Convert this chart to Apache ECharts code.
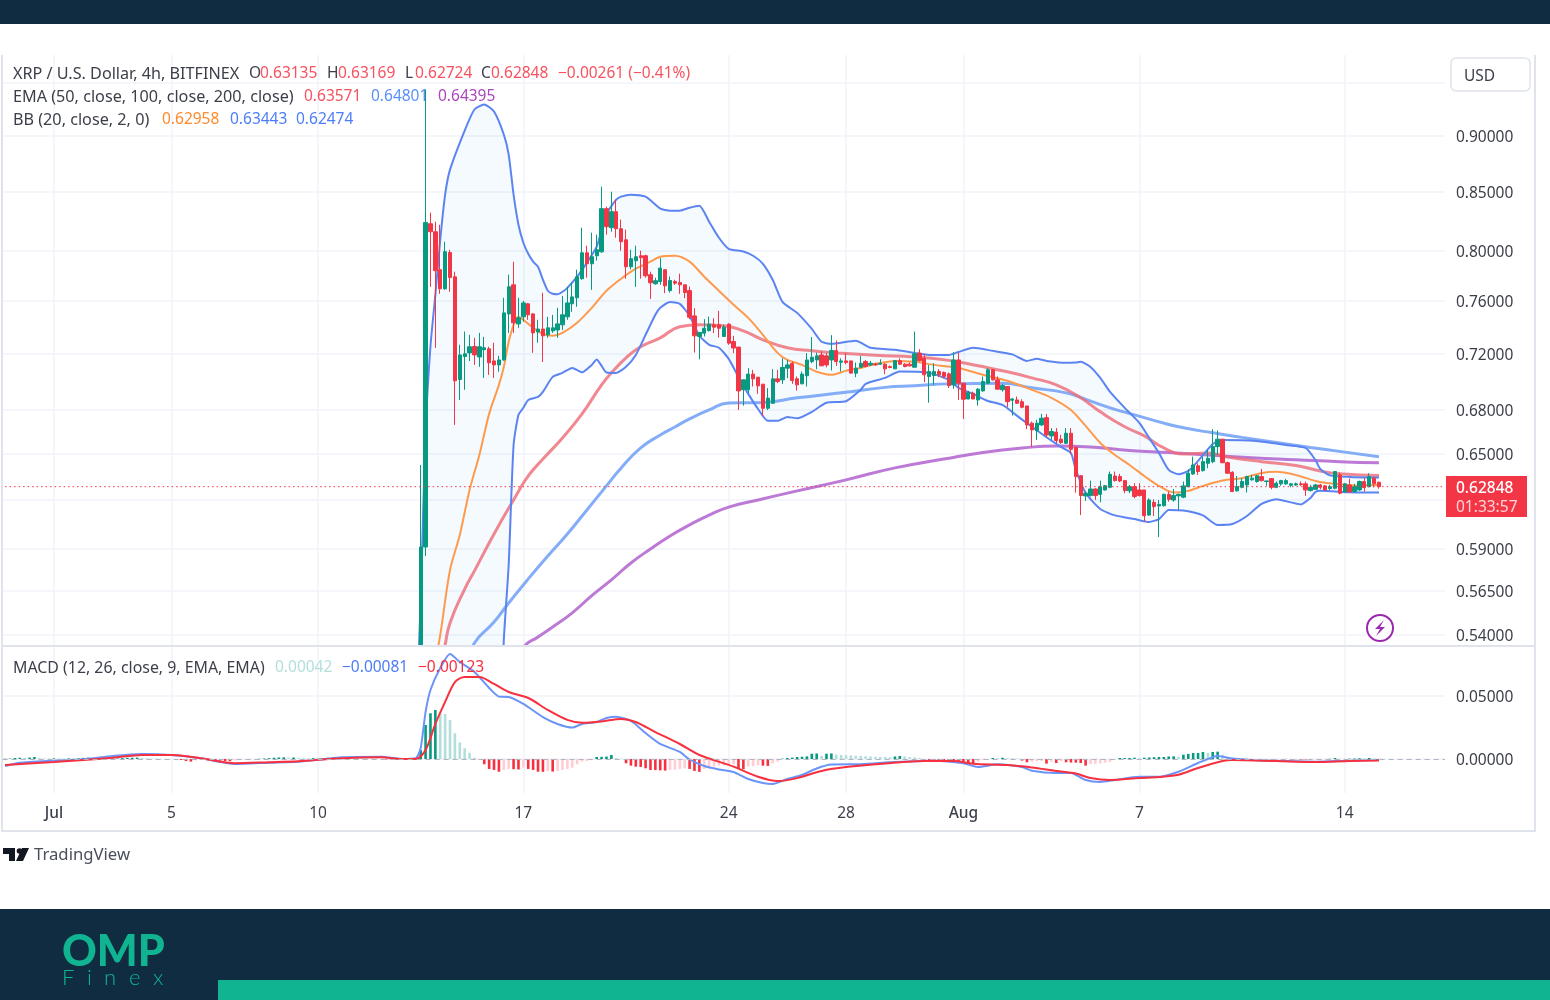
<!DOCTYPE html>
<html>
<head>
<meta charset="utf-8">
<title>XRP / U.S. Dollar</title>
<script src="https://cdn.jsdelivr.net/npm/echarts@6/dist/echarts.min.js"></script>
<style>
html,body{margin:0;padding:0;background:#fff;}
#chart{width:1550px;height:1000px;}
</style>
</head>
<body>
<div id="chart"></div>
<script type="text/javascript">
// one slot = one 4h candle, slot 0 is Jul 1 00:00
var firstSlot = -10, slotCount = 295, firstCandle = 75;
var tickSlots = [0, 24, 54, 96, 138, 162, 186, 222, 264];
var tickLabels = ['Jul', '5', '10', '17', '24', '28', 'Aug', '7', '14'];
var priceTicks = [0.54, 0.565, 0.59, 0.65, 0.68, 0.72, 0.76, 0.80, 0.85, 0.90];
var priceGrid = [0.54, 0.565, 0.59, 0.62, 0.65, 0.68, 0.72, 0.76, 0.80, 0.85, 0.90, 0.95];
var macdTicks = [0, 0.05];
var lastPrice = 0.62848;

// candles, slot 75 to slot 271 (slot 75 opens below the visible pane)
var opens = [
.5345,.5909,.8225,.8158,.7847,.7695,.7986,.7790,.7013,.7180,
.7207,.7254,.7177,.7230,.7237,.7148,.7119,.7155,.7500,.7727,
.7424,.7478,.7578,.7500,.7363,.7385,.7341,.7371,.7378,.7417,
.7478,.7578,.7625,.7775,.7984,.7895,.7960,.7992,.8353,.8192,
.8327,.8183,.8091,.7871,.7920,.7960,.7960,.7807,.7735,.7753,
.7847,.7681,.7753,.7745,.7727,.7681,.7485,.7329,.7354,.7373,
.7417,.7417,.7329,.7422,.7291,.7250,.6940,.6940,.7052,.7030,
.6980,.6810,.6845,.7018,.7011,.7095,.7131,.7018,.6982,.7040,
.7143,.7155,.7192,.7185,.7155,.7224,.7138,.7148,.7148,.7059,
.7102,.7143,.7119,.7126,.7124,.7124,.7107,.7090,.7150,.7124,
.7124,.7102,.7205,.7167,.7035,.7042,.7071,.7064,.7054,.6975,
.7155,.6987,.6875,.6916,.6868,.6932,.6987,.7083,.7011,.6940,
.6963,.6866,.6868,.6856,.6826,.6707,.6655,.6695,.6745,.6620,
.6646,.6598,.6570,.6638,.6543,.6356,.6226,.6228,.6270,.6236,
.6264,.6281,.6354,.6350,.6324,.6258,.6285,.6264,.6264,.6105,
.6185,.6162,.6164,.6236,.6200,.6226,.6218,.6285,.6367,.6421,
.6389,.6437,.6448,.6548,.6598,.6441,.6378,.6258,.6281,.6296,
.6329,.6318,.6350,.6318,.6337,.6281,.6303,.6303,.6294,.6296,
.6303,.6303,.6260,.6268,.6296,.6290,.6273,.6275,.6361,.6251,
.6296,.6254,.6264,.6318,.6285,.6340,.63135];
var closes = [
.5909,.8236,.8158,.7839,.7695,.7993,.7785,.7004,.7192,.7200,
.7252,.7192,.7252,.7245,.7134,.7119,.7155,.7508,.7711,.7432,
.7470,.7585,.7493,.7356,.7385,.7334,.7394,.7394,.7424,.7493,
.7585,.7632,.7791,.7984,.7895,.7952,.8009,.8353,.8200,.8327,
.8183,.8075,.7871,.7936,.7952,.7944,.7799,.7743,.7759,.7860,
.7719,.7761,.7740,.7727,.7666,.7475,.7334,.7359,.7391,.7422,
.7399,.7391,.7399,.7279,.7243,.6932,.7011,.7052,.7018,.6968,
.6810,.6881,.7018,.6999,.7100,.7119,.7006,.6975,.7052,.7155,
.7175,.7185,.7112,.7119,.7224,.7143,.7148,.7136,.7059,.7095,
.7131,.7107,.7131,.7119,.7131,.7090,.7100,.7150,.7124,.7107,
.7112,.7200,.7150,.7047,.7071,.7071,.7047,.7035,.6970,.7155,
.6987,.6873,.6920,.6875,.6944,.6999,.7083,.7011,.6944,.6970,
.6856,.6875,.6845,.6817,.6695,.6661,.6707,.6741,.6627,.6650,
.6589,.6575,.6638,.6530,.6350,.6228,.6243,.6270,.6228,.6285,
.6291,.6365,.6324,.6322,.6260,.6285,.6222,.6228,.6101,.6200,
.6158,.6172,.6236,.6204,.6228,.6236,.6290,.6372,.6426,.6383,
.6448,.6470,.6548,.6598,.6441,.6372,.6254,.6285,.6318,.6350,
.6340,.6356,.6324,.6322,.6281,.6307,.6324,.6324,.6303,.6303,
.6298,.6264,.6281,.6296,.6281,.6264,.6285,.6383,.6243,.6303,
.6251,.6285,.6318,.6279,.6350,.6303,.62848];
var highs = [
.6426,.9437,.8319,.8242,.8217,.8075,.8009,.7831,.7267,.7366,
.7341,.7319,.7356,.7326,.7252,.7282,.7185,.7625,.7807,.7911,
.7625,.7601,.7585,.7508,.7455,.7664,.7478,.7493,.7547,.7640,
.7711,.7743,.7847,.8192,.8042,.8150,.8133,.8543,.8370,.8499,
.8430,.8260,.8175,.8009,.8042,.8001,.7968,.7831,.7783,.7941,
.7850,.7793,.7767,.7815,.7727,.7713,.7544,.7359,.7460,.7480,
.7467,.7524,.7417,.7429,.7334,.7250,.7011,.7095,.7083,.7030,
.6980,.6952,.7088,.7083,.7167,.7155,.7143,.7035,.7071,.7205,
.7324,.7209,.7219,.7205,.7339,.7299,.7167,.7205,.7148,.7136,
.7185,.7155,.7148,.7136,.7160,.7131,.7114,.7155,.7167,.7131,
.7136,.7366,.7234,.7200,.7119,.7131,.7088,.7071,.7064,.7212,
.7209,.6987,.6932,.6927,.6952,.7035,.7095,.7090,.7035,.6982,
.6963,.6881,.6892,.6873,.6826,.6718,.6730,.6771,.6769,.6673,
.6673,.6627,.6673,.6673,.6547,.6356,.6254,.6324,.6275,.6324,
.6296,.6383,.6383,.6368,.6329,.6296,.6307,.6307,.6264,.6211,
.6204,.6200,.6240,.6254,.6270,.6241,.6318,.6398,.6481,.6437,
.6481,.6526,.6666,.6657,.6598,.6448,.6385,.6354,.6340,.6356,
.6361,.6361,.6400,.6324,.6340,.6318,.6329,.6335,.6309,.6311,
.6318,.6318,.6296,.6303,.6303,.6296,.6296,.6387,.6376,.6307,
.6337,.6303,.6324,.6340,.6372,.6350,.63169];
var lows = [
.5345,.5855,.7711,.7244,.7656,.7687,.7672,.6695,.6868,.6940,
.7147,.7119,.7105,.7025,.7047,.7025,.7069,.7150,.7356,.7356,
.7394,.7440,.7455,.7207,.7282,.7140,.7319,.7356,.7319,.7378,
.7455,.7516,.7555,.7767,.7783,.7687,.7920,.7984,.8133,.8158,
.8108,.8001,.7775,.7850,.7711,.7775,.7783,.7616,.7727,.7727,
.7661,.7666,.7727,.7656,.7622,.7460,.7209,.7160,.7329,.7366,
.7354,.7321,.7329,.7267,.7205,.6798,.6828,.6916,.6963,.6911,
.6757,.6798,.6845,.6987,.6982,.7023,.6982,.6935,.6982,.6963,
.7131,.7088,.7112,.7102,.7078,.7112,.7071,.7124,.7059,.7030,
.7095,.7102,.7112,.7112,.7119,.7052,.7095,.7090,.7119,.7102,
.7107,.7102,.7143,.6994,.6849,.6975,.7030,.7023,.6952,.6947,
.6868,.6735,.6873,.6873,.6828,.6927,.6980,.7006,.6940,.6927,
.6817,.6759,.6840,.6810,.6666,.6547,.6593,.6688,.6611,.6593,
.6570,.6566,.6566,.6497,.6247,.6105,.6193,.6222,.6200,.6185,
.6260,.6275,.6318,.6314,.6243,.6243,.6211,.6222,.6064,.6101,
.6099,.5969,.6158,.6189,.6189,.6137,.6211,.6281,.6361,.6361,
.6383,.6405,.6437,.6492,.6437,.6368,.6250,.6254,.6275,.6247,
.6324,.6311,.6318,.6291,.6268,.6275,.6291,.6296,.6281,.6290,
.6290,.6226,.6254,.6264,.6268,.6258,.6264,.6268,.6236,.6247,
.6247,.6247,.6258,.6254,.6281,.6281,.62724];

// indicator lines, [slot, value]
var bbUpper = [[74,.4900],[75,.5594],[76,.6661],[77,.7257],[78,.7648],[79,.8091],[80,.8473],[81,.8693],[84,.9048],[86,.9245],[88,.9292],[90,.9226],[92,.9011],[93,.8828],[94,.8473],[95,.8217],[96,.8067],[97,.7976],[98,.7912],[99,.7871],[100,.7767],[101,.7680],[102,.7656],[103,.7652],[104,.7672],[105,.7703],[107,.7791],[109,.7904],[111,.8034],[113,.8302],[115,.8430],[116,.8456],[118,.8473],[121,.8456],[124,.8353],[126,.8336],[128,.8336],[130,.8361],[132,.8378],[134,.8242],[136,.8108],[138,.8017],[141,.7995],[143,.7960],[145,.7895],[147,.7767],[149,.7593],[152,.7508],[155,.7386],[157,.7289],[159,.7274],[164,.7297],[167,.7245],[172,.7230],[176,.7207],[179,.7192],[183,.7192],[185,.7214],[188,.7245],[192,.7222],[196,.7196],[199,.7148],[201,.7163],[203,.7148],[207,.7134],[209,.7137],[210,.7141],[212,.7104],[214,.7025],[216,.6925],[219,.6813],[222,.6709],[224,.6607],[226,.6505],[228,.6394],[230,.6365],[232,.6387],[234,.6453],[237,.6566],[239,.6593],[246,.6586],[252,.6559],[256,.6539],[258,.6459],[259,.6400],[261,.6358],[265,.6348],[271,.6344]];
var bbLower = [[74,.4400],[76,.3700],[90,.4200],[91,.4700],[92,.5372],[93,.5801],[94,.6559],[95,.6764],[96,.6813],[97,.6868],[99,.6889],[100,.6925],[102,.7032],[104,.7061],[106,.7097],[108,.7065],[110,.7119],[111,.7159],[112,.7112],[113,.7064],[115,.7061],[117,.7105],[119,.7192],[121,.7341],[123,.7493],[124,.7547],[126,.7593],[128,.7578],[130,.7485],[132,.7334],[134,.7267],[136,.7245],[138,.7163],[140,.7032],[142,.6911],[144,.6805],[146,.6723],[148,.6723],[150,.6750],[152,.6740],[155,.6785],[158,.6848],[162,.6859],[165,.6940],[166,.6982],[170,.7025],[173,.7071],[179,.7061],[183,.7011],[185,.6954],[188,.6911],[191,.6861],[194,.6833],[197,.6757],[200,.6682],[203,.6611],[206,.6545],[208,.6505],[209,.6394],[211,.6245],[214,.6143],[217,.6103],[221,.6080],[224,.6062],[226,.6080],[228,.6137],[231,.6133],[235,.6103],[238,.6043],[241,.6049],[244,.6099],[247,.6175],[250,.6204],[255,.6172],[257,.6213],[258,.6251],[259,.6258],[265,.6249],[271,.6247]];
var bbBasis = [[74,.4700],[76,.5045],[77,.5200],[78,.5265],[79,.5400],[81,.5771],[83,.5982],[85,.6264],[87,.6492],[89,.6771],[91,.6975],[92,.7104],[93,.7289],[94,.7417],[95,.7478],[96,.7455],[98,.7394],[100,.7349],[102,.7334],[104,.7356],[107,.7432],[110,.7547],[113,.7680],[116,.7775],[119,.7855],[122,.7912],[124,.7952],[127,.7960],[130,.7912],[133,.7791],[136,.7680],[139,.7570],[142,.7470],[145,.7341],[148,.7207],[150,.7155],[153,.7119],[156,.7069],[159,.7047],[162,.7076],[165,.7097],[168,.7126],[172,.7148],[176,.7141],[180,.7119],[185,.7097],[190,.7047],[195,.7004],[200,.6940],[204,.6883],[208,.6798],[211,.6688],[214,.6572],[217,.6492],[220,.6426],[223,.6354],[226,.6290],[229,.6248],[232,.6258],[235,.6290],[239,.6325],[243,.6340],[247,.6374],[250,.6382],[254,.6361],[258,.6322],[262,.6303],[266,.6293],[271,.6296]];
var ema50 = [[74,.4800],[79,.5210],[80,.5345],[81,.5467],[84,.5660],[86,.5766],[90,.5988],[94,.6200],[97,.6354],[100,.6465],[104,.6606],[108,.6771],[112,.6975],[114,.7061],[117,.7170],[120,.7252],[124,.7319],[128,.7402],[132,.7417],[137,.7409],[141,.7371],[145,.7304],[150,.7245],[155,.7222],[160,.7207],[168,.7189],[176,.7177],[183,.7152],[189,.7112],[195,.7069],[200,.7025],[205,.6975],[210,.6883],[214,.6785],[219,.6682],[223,.6620],[227,.6539],[231,.6499],[236,.6505],[240,.6479],[247,.6448],[254,.6423],[259,.6387],[263,.6368],[271,.6357]];
var ema100 = [[80,.4800],[85,.5267],[86,.5356],[90,.5472],[93,.5580],[97,.5719],[101,.5855],[105,.5988],[109,.6137],[113,.6290],[116,.6406],[120,.6539],[124,.6626],[127,.6681],[130,.6736],[134,.6799],[138,.6847],[145,.6851],[152,.6883],[162,.6922],[170,.6957],[176,.6968],[183,.6982],[194,.6986],[200,.6954],[207,.6918],[211,.6872],[216,.6813],[221,.6764],[226,.6716],[231,.6675],[237,.6641],[243,.6610],[250,.6576],[257,.6542],[264,.6511],[271,.6480]];
var ema200 = [[90,.5000],[96,.5329],[99,.5389],[102,.5444],[106,.5524],[110,.5622],[114,.5713],[118,.5813],[122,.5897],[126,.5976],[130,.6044],[134,.6105],[138,.6155],[144,.6200],[152,.6258],[162,.6329],[172,.6407],[182,.6465],[190,.6509],[198,.6539],[205,.6552],[212,.6546],[220,.6522],[228,.6508],[236,.6492],[245,.6474],[254,.6461],[263,.6448],[271,.6440]];
var macdLine = [[-10,-.0056],[-7,-.0029],[0,-.0013],[6,-.0002],[12,.0024],[18,.0040],[24,.0032],[30,.0006],[37,-.0040],[44,-.0029],[50,-.0021],[59,.0013],[67,.0018],[71,0],[74,.0006],[75,.0087],[76,.0373],[77,.0548],[79,.0723],[81,.0834],[83,.0770],[86,.0691],[89,.0564],[91,.0495],[93,.0492],[96,.0437],[100,.0333],[103,.0278],[106,.0249],[108,.0278],[111,.0294],[113,.0326],[115,.0336],[118,.0302],[121,.0206],[124,.0119],[128,.0056],[130,-.0004],[133,-.0056],[136,-.0083],[139,-.0103],[142,-.0159],[145,-.0191],[147,-.0199],[150,-.0159],[153,-.0127],[156,-.0075],[159,-.0044],[165,-.0041],[172,-.0024],[180,-.0013],[186,-.0033],[189,-.0064],[193,-.0042],[198,-.0064],[200,-.0093],[205,-.0111],[208,-.0111],[211,-.0167],[214,-.0183],[217,-.0167],[222,-.0141],[226,-.0141],[230,-.0101],[234,-.0032],[238,.0024],[241,.0004],[245,-.0008],[252,-.0016],[258,-.0021],[265,-.0013],[271,-.00081]];
var macdSignal = [[-10,-.0048],[0,-.0024],[6,-.0008],[12,.0010],[18,.0032],[24,.0032],[30,.0006],[37,-.0034],[44,-.0026],[50,-.0018],[59,.0006],[67,.0013],[71,0],[74,0],[76,.0071],[78,.0278],[80,.0453],[82,.0611],[84,.0651],[87,.0651],[90,.0596],[93,.0532],[97,.0484],[101,.0389],[105,.0310],[108,.0288],[112,.0298],[116,.0318],[119,.0294],[123,.0214],[128,.0119],[132,.0032],[139,-.0061],[144,-.0141],[148,-.0175],[152,-.0152],[157,-.0095],[162,-.0064],[170,-.0036],[178,-.0016],[184,-.0016],[188,-.0037],[195,-.0048],[200,-.0067],[205,-.0095],[209,-.0115],[212,-.0151],[216,-.0167],[222,-.0151],[226,-.0143],[230,-.0125],[234,-.0071],[239,-.0016],[241,-.0008],[250,-.0016],[258,-.0024],[265,-.0016],[271,-.00123]];
// histogram, slot -10 to slot 271
var macdHist = [
.0002,.0003,.0008,.0010,.0009,.0011,.0016,.0006,.0004,.0003,
.0005,.0004,.0003,.0005,.0004,.0006,.0009,.0011,.0008,.0005,
.0004,.0003,.0003,.0004,.0007,.0009,.0010,.0011,.0008,.0005,
.0003,.0002,.0001,-.0002,-.0001,-.0004,-.0008,-.0016,-.0021,-.0012,
-.0008,-.0006,-.0005,-.0009,-.0013,-.0016,-.0018,-.0012,-.0007,-.0004,
-.0002,-.0001,.0002,.0004,.0007,.0010,.0012,.0013,.0010,.0012,
.0008,.0006,.0005,.0007,.0006,.0008,.0010,.0012,.0014,.0016,
.0011,.0009,.0008,.0006,.0004,.0003,.0002,-.0001,-.0004,-.0006,
-.0005,-.0003,-.0002,-.0001,.0002,
.0071,.0270,.0363,.0389,.0363,.0357,.0310,.0204,.0132,.0085,
.0050,.0010,-.0003,-.0042,-.0079,-.0087,-.0101,-.0087,-.0079,-.0081,
-.0083,-.0069,-.0079,-.0087,-.0101,-.0102,-.0095,-.0100,-.0095,-.0087,
-.0079,-.0069,-.0042,-.0021,-.0016,-.0010,.0016,.0017,.0019,.0032,
.0008,.0002,-.0034,-.0053,-.0061,-.0063,-.0074,-.0087,-.0088,-.0090,
-.0092,-.0087,-.0085,-.0079,-.0074,-.0079,-.0095,-.0102,-.0079,-.0074,
-.0060,-.0053,-.0050,-.0045,-.0042,-.0079,-.0081,-.0060,-.0058,-.0050,
-.0053,-.0055,-.0034,-.0021,.0003,.0008,.0011,.0016,.0018,.0021,
.0042,.0044,.0026,.0042,.0044,.0034,.0032,.0030,.0028,.0026,
.0024,.0022,.0020,.0018,.0016,.0015,.0014,.0020,.0024,.0021,
.0016,.0013,.0008,-.0005,-.0008,-.0013,-.0016,-.0018,-.0021,-.0024,
-.0026,-.0026,-.0030,-.0037,-.0021,-.0008,-.0003,.0008,.0005,.0010,
.0008,.0006,.0003,-.0013,-.0026,-.0021,-.0018,-.0016,-.0037,-.0021,
-.0032,-.0018,-.0026,-.0028,-.0029,-.0032,-.0053,-.0040,-.0038,-.0035,
-.0030,-.0024,-.0005,.0008,.0008,.0008,.0010,.0006,.0010,.0012,
.0014,.0016,.0016,.0020,.0021,.0018,.0034,.0040,.0048,.0048,
.0056,.0048,.0056,.0058,.0034,.0012,.0005,.0003,.0002,-.0002,
-.0003,-.0002,-.0001,-.0002,-.0003,-.0002,-.0001,.0001,-.0001,-.0002,
-.0003,-.0004,-.0003,-.0002,-.0003,-.0002,.0002,.0008,.0003,.0002,
.0003,.0004,.0006,.0004,.0008,.0006,.00042];

var UP = '#089981', DOWN = '#f23645', GRID = '#f0f3fa', BORDER = '#e0e3eb', INK = '#3c3f4a';
var FONT = '"Noto Sans"';

var categories = [];
for (var i = 0; i < slotCount; i++) categories.push(String(firstSlot + i));
function idx(slot) { return slot - firstSlot; }
function pts(list) { return list.map(function (p) { return [idx(p[0]), p[1]]; }); }

var candles = opens.map(function (o, i) {
	return [idx(firstCandle + i), o, closes[i], lows[i], highs[i]];
});
var tickIdx = tickSlots.map(idx);

function line(name, list, color, width, pane, smooth, opacity) {
	return {
		name: name, type: 'line', data: pts(list),
		xAxisIndex: pane, yAxisIndex: pane,
		showSymbol: false, smooth: smooth, z: 3, silent: true,
		lineStyle: { color: color, width: width, opacity: opacity || 1 }
	};
}

// band between upper and lower, one polygon
var bandSeries = {
	type: 'custom', name: 'BB fill', data: pts(bbUpper), encode: { x: 0, y: 1 },
	xAxisIndex: 0, yAxisIndex: 0, clip: true, z: 1, silent: true,
	renderItem: function (params, api) {
		if (params.dataIndex !== 0) return null;
		var ring = pts(bbUpper).concat(pts(bbLower).reverse());
		return {
			type: 'polygon',
			shape: { points: ring.map(function (p) { return api.coord(p); }) },
			style: { fill: 'rgba(33,150,243,0.05)' }
		};
	}
};

// Noto Sans sits about 2px high on "middle"
function txt(x, y, s, color, size, extra) {
	var style = { text: s, fill: color, font: (size || 15.5) + 'px ' + FONT, verticalAlign: 'middle', align: 'left' };
	for (var k in extra || {}) style[k] = extra[k];
	return { type: 'text', x: x, y: y + 2, z: 50, silent: true, style: style };
}
function box(x, y, w, h, fill, z) {
	return { type: 'rect', z: z || 0, silent: true, shape: { x: x, y: y, width: w, height: h }, style: { fill: fill } };
}
function poly(points, fill, z) {
	return { type: 'polygon', z: z || 50, silent: true, shape: { points: points }, style: { fill: fill } };
}

var R = '#f7525f', NAME = 16.2;
var graphics = [
	// page bands
	box(0, 0, 1550, 24, '#0f2c41', 40),
	box(0, 909, 1550, 91, '#0f2c41', 40),
	box(218, 980, 1332, 20, '#10b491', 41),
	// chart frame, no line on top
	{ type: 'rect', z: 5, silent: true, shape: { x: 2, y: 40, width: 1533, height: 791 }, style: { fill: 'none', stroke: BORDER, lineWidth: 2 } },
	box(0, 25, 1550, 30, '#fff', 6),
	box(2, 645, 1533, 2, BORDER, 6),
	// legend rows
	txt(13, 72, 'XRP / U.S. Dollar, 4h, BITFINEX', INK, NAME),
	txt(249, 72, 'O', INK), txt(260, 72, '0.63135', R),
	txt(327, 72, 'H', INK), txt(338, 72, '0.63169', R),
	txt(405, 72, 'L', INK), txt(415, 72, '0.62724', R),
	txt(481, 72, 'C', INK), txt(491, 72, '0.62848', R),
	txt(558, 72, '\u22120.00261 (\u22120.41%)', R),
	txt(13, 95, 'EMA (50, close, 100, close, 200, close)', INK, NAME),
	txt(304, 95, '0.63571', R), txt(371, 95, '0.64801', '#5b8ff9'), txt(438, 95, '0.64395', '#ab47bc'),
	txt(13, 118, 'BB (20, close, 2, 0)', INK, NAME),
	txt(162, 118, '0.62958', '#ff8a2b'), txt(230, 118, '0.63443', '#4d7ef7'), txt(296, 118, '0.62474', '#4d7ef7'),
	txt(13, 666, 'MACD (12, 26, close, 9, EMA, EMA)', INK, 15.9),
	txt(275, 666, '0.00042', '#b2dfdb'), txt(342, 666, '\u22120.00081', '#4d7ef7'), txt(418, 666, '\u22120.00123', '#f7303f'),
	// USD button
	{ type: 'rect', z: 45, silent: true, shape: { x: 1451, y: 58, width: 79, height: 33, r: 5 }, style: { fill: '#fff', stroke: BORDER, lineWidth: 1.5 } },
	txt(1464, 75, 'USD', INK),
	// last price label
	box(1446, 476, 81, 41, '#f23645', 45),
	txt(1456, 487, '0.62848', '#fff', 15.5, { font: '500 15.5px ' + FONT }),
	txt(1456, 506, '01:33:57', '#ffd5d9'),
	// bolt
	{ type: 'circle', z: 45, silent: true, shape: { cx: 1380, cy: 628, r: 13 }, style: { fill: '#fff', stroke: '#9c27b0', lineWidth: 2 } },
	poly([[1384, 620], [1375, 629], [1380, 629], [1376, 636], [1385, 627], [1380, 627]], '#9c27b0'),
	// TradingView logo
	poly([[3, 848], [15, 848], [15, 861], [9, 861], [9, 854], [3, 854]], '#131722'),
	{ type: 'circle', z: 50, silent: true, shape: { cx: 19.5, cy: 851, r: 2.8 }, style: { fill: '#131722' } },
	poly([[29, 848], [23, 861], [16, 861], [22, 848]], '#131722'),
	txt(34, 853, 'TradingView', '#4a4e5a', 16.7),
	// OMP logo
	txt(62, 950, 'OMP', '#10b491', 43, { font: '900 43px Lato' }),
	txt(62, 976, 'F', '#10b491', 22, { font: '300 22px Lato' }),
	txt(87, 976, 'i', '#10b491', 22, { font: '300 22px Lato' }),
	txt(104, 976, 'n', '#10b491', 22, { font: '300 22px Lato' }),
	txt(129, 976, 'e', '#10b491', 22, { font: '300 22px Lato' }),
	txt(153, 976, 'x', '#10b491', 22, { font: '300 22px Lato' })
];

function xAxisFor(pane) {
	var isTick = function (index) { return tickIdx.indexOf(index) >= 0; };
	return {
		type: 'category', gridIndex: pane, data: categories, boundaryGap: true,
		axisLine: { show: false }, axisTick: { show: false },
		splitLine: { show: true, interval: isTick, alignWithLabel: true, lineStyle: { color: GRID, width: 1.5 } },
		axisLabel: pane === 0 ? { show: false } : {
			show: true, interval: isTick, margin: 13, hideOverlap: false,
			formatter: function (v, index) {
				var s = tickLabels[tickIdx.indexOf(index)];
				return (s === 'Jul' || s === 'Aug') ? '{m|' + s + '}' : s;
			},
			color: INK, fontFamily: FONT, fontSize: 15.5,
			rich: { m: { color: INK, fontFamily: FONT, fontSize: 15.5, fontWeight: 500 } }
		}
	};
}
function yLabel(fixedList) {
	return {
		show: true, margin: 11, align: 'left', color: INK, fontFamily: FONT, fontSize: 15.5,
		// top + small lineHeight pushes the text 2px down onto its grid line
		verticalAlign: 'top', lineHeight: 4,
		customValues: fixedList, showMinLabel: true, showMaxLabel: true,
		formatter: function (v) { return Number(v).toFixed(5); }
	};
}

var option = {
	animation: false,
	backgroundColor: '#fff',
	grid: [
		{ left: 2.66, top: 55, width: 1442.3, height: 590 },
		{ left: 2.66, top: 647, width: 1442.3, height: 146 }
	],
	xAxis: [xAxisFor(0), xAxisFor(1)],
	yAxis: [
		{
			type: 'log', gridIndex: 0, position: 'right', min: 0.5345, max: 0.9775, logBase: 10,
			axisLine: { show: false },
			axisTick: { show: false, customValues: priceGrid },
			splitLine: { show: true, lineStyle: { color: GRID, width: 1.5 } },
			axisLabel: yLabel(priceTicks)
		},
		{
			type: 'value', gridIndex: 1, position: 'right', min: -0.027, max: 0.0889,
			axisLine: { show: false },
			axisTick: { show: false, customValues: macdTicks },
			splitLine: { show: true, lineStyle: { color: GRID, width: 1.5 } },
			axisLabel: yLabel(macdTicks)
		}
	],
	series: [
		bandSeries,
		line('EMA 200', ema200, '#b56ad2', 3, 0, 0.5, 0.9),
		line('EMA 100', ema100, '#6f9ff6', 3, 0, 0.5, 0.85),
		line('EMA 50', ema50, '#ee6a76', 3, 0, 0.5, 0.8),
		line('BB upper', bbUpper, '#5b84f2', 2, 0, 0.2),
		line('BB lower', bbLower, '#5b84f2', 2, 0, 0.2),
		line('BB basis', bbBasis, '#ff9a4d', 2, 0, 0.3),
		{
			// dotted last price line, full pane width
			name: 'Last', type: 'line', xAxisIndex: 0, yAxisIndex: 0, showSymbol: false, silent: true, z: 5,
			data: [[0, lastPrice], [slotCount - 1, lastPrice]],
			lineStyle: { color: '#f23645', type: [1.5, 3], width: 1 }
		},
		{
			name: 'XRP', type: 'candlestick', data: candles, encode: { x: 0, y: [1, 2, 3, 4] },
			xAxisIndex: 0, yAxisIndex: 0, barWidth: 3.8, z: 4, silent: true,
			itemStyle: { color: UP, color0: DOWN, borderColor: UP, borderColor0: DOWN, borderWidth: 1 }
		},
		{
			name: 'Histogram', type: 'bar', xAxisIndex: 1, yAxisIndex: 1, barWidth: 2.6, z: 2, silent: true,
			data: macdHist.map(function (v, i) { return [idx(firstSlot + i), v]; }),
			itemStyle: {
				color: function (p) {
					var prev = p.dataIndex > 0 ? macdHist[p.dataIndex - 1] : 0, v = macdHist[p.dataIndex];
					if (v >= 0) return v >= prev ? '#089981' : '#b2dfdb';
					return v <= prev ? '#f7303f' : '#ffcdd2';
				}
			},
			markLine: {
				silent: true, symbol: 'none', animation: false, label: { show: false },
				lineStyle: { color: '#b2b5be', type: [5, 4], width: 1 },
				data: [{ yAxis: 0 }]
			}
		},
		line('MACD', macdLine, '#6a94f7', 2, 1, 0.2),
		line('Signal', macdSignal, '#f7303f', 2, 1, 0.3)
	],
	graphic: graphics
};

var myChart = echarts.init(document.getElementById('chart'), null, { renderer: 'canvas' });
myChart.setOption(option);
</script>
</body>
</html>
